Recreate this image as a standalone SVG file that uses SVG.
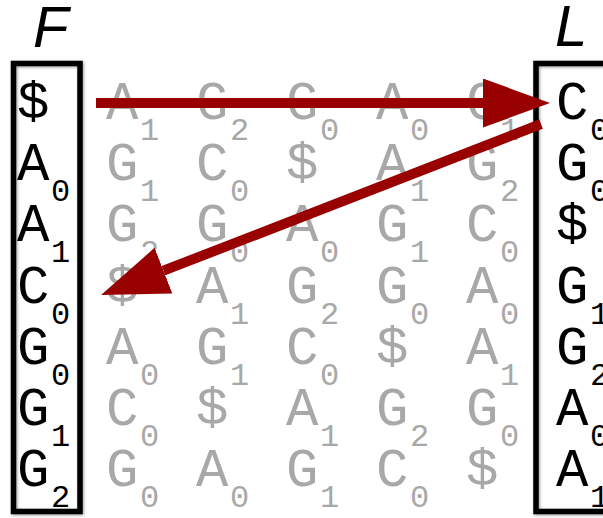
<svg xmlns="http://www.w3.org/2000/svg" width="603" height="518" viewBox="0 0 603 518">
<defs>
<style>
.big{font-family:"Liberation Mono","Courier New",monospace;font-size:54px}
.sub{font-family:"Liberation Mono","Courier New",monospace;font-size:32px}
.k{fill:#000}
.g{fill:#a8a8a8}
.hdr{font-family:"Liberation Sans",Arial,sans-serif;font-style:italic;font-size:58px;fill:#000}
.box{fill:none;stroke:#000;stroke-width:5.5}
.arr{stroke:#990000;stroke-width:10;fill:none}
</style>
<filter id="sh" x="-20%" y="-10%" width="140%" height="120%">
<feGaussianBlur in="SourceAlpha" stdDeviation="1.5" result="b"/>
<feOffset in="b" dx="1" dy="1" result="o"/>
<feComponentTransfer in="o" result="c"><feFuncA type="linear" slope="0.4"/></feComponentTransfer>
<feMerge><feMergeNode in="c"/><feMergeNode in="SourceGraphic"/></feMerge>
</filter>
<marker id="ah" markerUnits="userSpaceOnUse" markerWidth="68" markerHeight="50" refX="0" refY="24.5" orient="auto" viewBox="0 0 68 50">
<path d="M0,0 L67,24.5 L0,49 Z" fill="#990000"/>
</marker>
</defs>

<g id="F">
<text class="hdr" x="33" y="47">F</text>
<rect class="box" filter="url(#sh)" x="13.5" y="63.5" width="66.5" height="448"/>
<g class="k">
<text class="big" x="17" y="119">$</text>
<text class="big" x="17" y="180">A</text><text class="sub" x="51" y="201">0</text>
<text class="big" x="17" y="241">A</text><text class="sub" x="51" y="262">1</text>
<text class="big" x="17" y="303">C</text><text class="sub" x="51" y="324">0</text>
<text class="big" x="17" y="364">G</text><text class="sub" x="51" y="385">0</text>
<text class="big" x="17" y="425">G</text><text class="sub" x="51" y="446">1</text>
<text class="big" x="17" y="486">G</text><text class="sub" x="51" y="507">2</text>
</g>
</g>

<g id="matrix" class="g">
<!-- row 0 -->
<text class="big" x="106" y="119">A</text><text class="sub" x="140" y="140">1</text>
<text class="big" x="196" y="119">G</text><text class="sub" x="230" y="140">2</text>
<text class="big" x="286" y="119">G</text><text class="sub" x="320" y="140">0</text>
<text class="big" x="376" y="119">A</text><text class="sub" x="410" y="140">0</text>
<text class="big" x="466" y="119">G</text><text class="sub" x="500" y="140">1</text>
<!-- row 1 -->
<text class="big" x="106" y="180">G</text><text class="sub" x="140" y="201">1</text>
<text class="big" x="196" y="180">C</text><text class="sub" x="230" y="201">0</text>
<text class="big" x="286" y="180">$</text>
<text class="big" x="376" y="180">A</text><text class="sub" x="410" y="201">1</text>
<text class="big" x="466" y="180">G</text><text class="sub" x="500" y="201">2</text>
<!-- row 2 -->
<text class="big" x="106" y="241">G</text><text class="sub" x="140" y="262">2</text>
<text class="big" x="196" y="241">G</text><text class="sub" x="230" y="262">0</text>
<text class="big" x="286" y="241">A</text><text class="sub" x="320" y="262">0</text>
<text class="big" x="376" y="241">G</text><text class="sub" x="410" y="262">1</text>
<text class="big" x="466" y="241">C</text><text class="sub" x="500" y="262">0</text>
<!-- row 3 -->
<text class="big" x="106" y="303">$</text>
<text class="big" x="196" y="303">A</text><text class="sub" x="230" y="324">1</text>
<text class="big" x="286" y="303">G</text><text class="sub" x="320" y="324">2</text>
<text class="big" x="376" y="303">G</text><text class="sub" x="410" y="324">0</text>
<text class="big" x="466" y="303">A</text><text class="sub" x="500" y="324">0</text>
<!-- row 4 -->
<text class="big" x="106" y="364">A</text><text class="sub" x="140" y="385">0</text>
<text class="big" x="196" y="364">G</text><text class="sub" x="230" y="385">1</text>
<text class="big" x="286" y="364">C</text><text class="sub" x="320" y="385">0</text>
<text class="big" x="376" y="364">$</text>
<text class="big" x="466" y="364">A</text><text class="sub" x="500" y="385">1</text>
<!-- row 5 -->
<text class="big" x="106" y="425">C</text><text class="sub" x="140" y="446">0</text>
<text class="big" x="196" y="425">$</text>
<text class="big" x="286" y="425">A</text><text class="sub" x="320" y="446">1</text>
<text class="big" x="376" y="425">G</text><text class="sub" x="410" y="446">2</text>
<text class="big" x="466" y="425">G</text><text class="sub" x="500" y="446">0</text>
<!-- row 6 -->
<text class="big" x="106" y="486">G</text><text class="sub" x="140" y="507">0</text>
<text class="big" x="196" y="486">A</text><text class="sub" x="230" y="507">0</text>
<text class="big" x="286" y="486">G</text><text class="sub" x="320" y="507">1</text>
<text class="big" x="376" y="486">C</text><text class="sub" x="410" y="507">0</text>
<text class="big" x="466" y="486">$</text>
</g>

<g id="L">
<text class="hdr" x="555" y="46">L</text>
<rect class="box" filter="url(#sh)" x="536" y="63.5" width="72" height="448"/>
<g class="k">
<text class="big" x="556" y="119">C</text><text class="sub" x="590" y="140">0</text>
<text class="big" x="556" y="180">G</text><text class="sub" x="590" y="201">0</text>
<text class="big" x="556" y="241">$</text>
<text class="big" x="556" y="303">G</text><text class="sub" x="590" y="324">1</text>
<text class="big" x="556" y="364">G</text><text class="sub" x="590" y="385">2</text>
<text class="big" x="556" y="425">A</text><text class="sub" x="590" y="446">0</text>
<text class="big" x="556" y="486">A</text><text class="sub" x="590" y="507">1</text>
</g>
</g>

<g id="connectors">
<line class="arr" x1="96" y1="103" x2="483" y2="103" marker-end="url(#ah)"/>
<line class="arr" x1="541" y1="124" x2="163.5" y2="270.7" marker-end="url(#ah)"/>
</g>
</svg>
